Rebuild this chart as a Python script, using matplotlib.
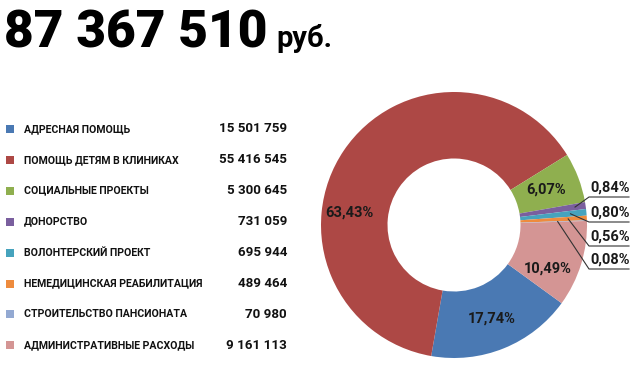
import matplotlib.pyplot as plt
import numpy as np

plt.rcParams['font.family'] = ['Roboto', 'DejaVu Sans']

total_text = '87 367 510'
currency = 'руб.'
categories = ['АДРЕСНАЯ ПОМОЩЬ', 'ПОМОЩЬ ДЕТЯМ В КЛИНИКАХ', 'СОЦИАЛЬНЫЕ ПРОЕКТЫ',
              'ДОНОРСТВО', 'ВОЛОНТЕРСКИЙ ПРОЕКТ', 'НЕМЕДИЦИНСКАЯ РЕАБИЛИТАЦИЯ',
              'СТРОИТЕЛЬСТВО ПАНСИОНАТА', 'АДМИНИСТРАТИВНЫЕ РАСХОДЫ']
amounts = [15501759, 55416545, 5300645, 731059, 695944, 489464, 70980, 9161113]
colors = ['#4A79B3', '#AD4845', '#8FAF4F', '#7A5F9E', '#46A3BD', '#EE8B3D', '#93A9D2', '#D49594']

def fmt_num(v):
    return '{:,}'.format(v).replace(',', ' ')

def fmt_pct(p):
    return ('%.2f%%' % p).replace('.', ',')

fig = plt.figure(figsize=(6.4, 3.7), dpi=100)
ax = fig.add_axes([0, 0, 1, 1])

# donut, coords in pixels (y up)
cx, cy, R = 454, 145, 133
wedges, _ = ax.pie(amounts, colors=colors, startangle=-36, counterclock=False,
                   center=(cx, cy), radius=R, wedgeprops=dict(width=R * 0.5, linewidth=0))
ax.set_xlim(0, 640)
ax.set_ylim(0, 370)
ax.set_aspect('equal')
ax.axis('off')

pcts = np.array(amounts) / sum(amounts) * 100

# big labels inside the ring: (index, angle override, radius factor)
inner = {0: (None, 0.76), 1: (173, 0.79), 2: (None, 0.74), 7: (-25, 0.78)}
for i, (ang, rf) in inner.items():
    w = wedges[i]
    if ang is None:
        ang = (w.theta1 + w.theta2) / 2
    a = np.radians(ang)
    ax.text(cx + rf * R * np.cos(a), cy + rf * R * np.sin(a), fmt_pct(pcts[i]),
            ha='center', va='center', fontsize=10.5, fontweight='bold', color='#1a1a1a')

# small slices with leader lines
small = [(3, 0.92, 173), (4, 0.88, 148), (5, 0.86, 124), (6, 0.78, 101)]
for i, rf, ly in small:
    w = wedges[i]
    a = np.radians((w.theta1 + w.theta2) / 2)
    px, py = cx + rf * R * np.cos(a), cy + rf * R * np.sin(a)
    ax.plot([px, 589, 629], [py, ly, ly], color='#333333', lw=0.8)
    ax.text(590, ly + 2.5, fmt_pct(pcts[i]), ha='left', va='bottom',
            fontsize=10.5, fontweight='semibold', color='#1a1a1a')

# legend table
for k, (name, val, c) in enumerate(zip(categories, amounts, colors)):
    y = 241 - k * 30.9
    ax.add_patch(plt.Rectangle((6, y - 4), 8, 8, color=c, lw=0))
    ax.text(24, y, name, ha='left', va='center', fontsize=7.6,
            fontweight='semibold', color='#111111')
    ax.text(287, y, fmt_num(val), ha='right', va='center', fontsize=9.6,
            fontweight='bold', color='#111111')

# header
ax.text(4, 323, total_text, ha='left', va='baseline', fontsize=37,
        fontweight='black', color='#000000')
ax.text(276, 323, currency, ha='left', va='baseline', fontsize=21,
        fontweight='bold', color='#000000')

fig.savefig('out.png', dpi=100)
